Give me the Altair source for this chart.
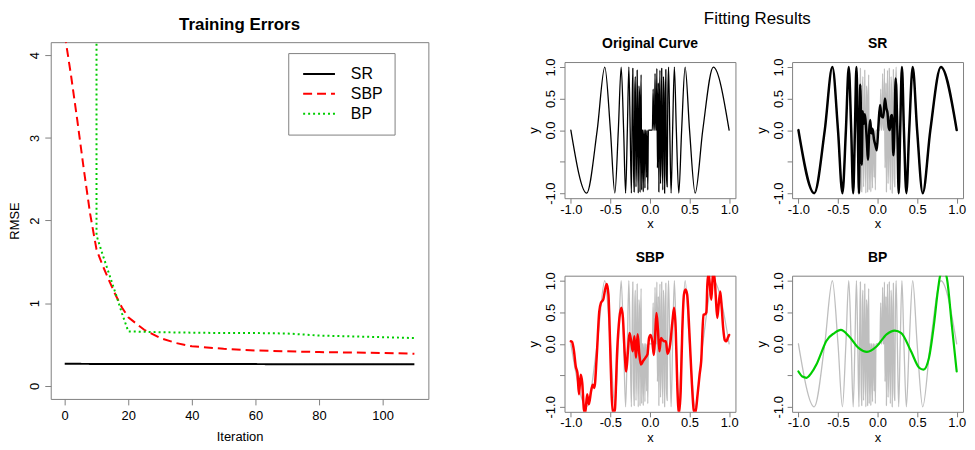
import altair as alt
import pandas as pd

FONT = "Liberation Sans"

# ---------------- Training errors ----------------
methods = ["SR", "SBP", "BP"]
method_colors = ["#000000", "#FF0000", "#00CD00"]
method_dash = [[1, 0], [9, 5], [2, 3]]

sr_iter = [0, 110]
sr_rmse = [0.268, 0.262]

sbp_iter = [0, 2, 4, 6, 8, 10, 12, 14, 16, 18, 20, 25, 30, 35, 40, 50, 60, 70, 80, 90, 100, 110]
sbp_rmse = [4.25, 3.75, 3.2, 2.62, 2.08, 1.65, 1.45, 1.27, 1.1, 0.95, 0.83, 0.68, 0.58, 0.52,
            0.48, 0.45, 0.43, 0.42, 0.41, 0.405, 0.40, 0.39]

bp_iter = [10, 10, 12, 14, 16, 18, 20, 30, 40, 50, 60, 70, 80, 90, 100, 110]
bp_rmse = [9.0, 1.82, 1.58, 1.35, 1.12, 0.88, 0.66, 0.65, 0.645, 0.64, 0.64, 0.635, 0.61, 0.60, 0.59, 0.58]

# ---------------- Fitting results ----------------
orig_x = [-1.0, -0.8, -0.667, -0.571, -0.5, -0.444, -0.4, -0.364, -0.333, -0.308, -0.286, -0.267, -0.25, -0.235,
          -0.225, -0.217, -0.208, -0.2, -0.192, -0.185, -0.177, -0.17, -0.162, -0.155, -0.148, -0.14, -0.133,
          -0.126, -0.119, -0.112, -0.105,
          -0.098, -0.09, -0.085, -0.078, -0.07, -0.064, -0.057, -0.05, -0.042, -0.035, -0.028, -0.02, -0.01, 0.0,
          0.01, 0.02, 0.03, 0.04, 0.048, 0.056, 0.064, 0.072, 0.08, 0.087, 0.094, 0.1, 0.106, 0.112, 0.119,
          0.126, 0.133, 0.14, 0.148, 0.155, 0.162, 0.17, 0.177, 0.185, 0.192, 0.2, 0.208, 0.217, 0.225, 0.235,
          0.25, 0.267, 0.286, 0.308, 0.333, 0.364, 0.4, 0.444, 0.5, 0.571, 0.667, 0.8, 1.0]
orig_y = [0, -1, 0, 1, 0, -1, 0, 1, 0, -1, 0, 1, 0, -1,
          0.30, 0.98, -0.55, -0.98, 0.60, 0.85, -0.90, -0.40, 0.95, -0.20, -1.00, 0.70, 0.55,
          -0.98, 0.20, 0.88, -0.95,
          0.0, 0.0, -0.98, 0.0, 0.0, -0.92, 0.0, 0.0, -0.75, 0.0, -0.95, 0.0, 0.0, 0.0,
          0.0, 0.0, 0.0, 0.65, 0.0, 0.0, 0.90, 0.0, 0.0, 0.98, -0.60, 0.0, 0.75, -0.98, 0.30,
          0.95, -0.85, -0.40, 0.98, -0.30, -0.95, 0.85, 0.60, -1.00, 0.10, 0.96, -0.70, -0.90, 0.50, 1.00,
          0, -1, 0, 1, 0, -1, 0, 1, 0, -1, 0, 1, 0]

sr_x = [-1.0, -0.8, -0.667, -0.571, -0.5, -0.444, -0.4, -0.364, -0.333, -0.308, -0.286, -0.267, -0.25, -0.235,
        -0.218, -0.2, -0.188, -0.175, -0.16, -0.146, -0.134, -0.122, -0.105, -0.093, -0.078, -0.064, -0.045,
        -0.025, -0.01,
        0.01, 0.031, 0.05, 0.072, 0.093, 0.11, 0.126, 0.14, 0.155, 0.17, 0.183, 0.2, 0.215, 0.229,
        0.25, 0.267, 0.286, 0.308, 0.333, 0.364, 0.4, 0.444, 0.5, 0.571, 0.667, 0.8, 1.0]
sr_y = [0, -1, 0, 1, 0, -1, 0, 1, 0, -1, 0, 1, 0, -1,
        0.72, -0.55, 0.30, 0.10, 0.25, 0.05, -0.20, -0.47, 0.0, 0.16, -0.05, 0.02, -0.15,
        -0.25, -0.32,
        0.05, 0.40, 0.22, 0.20, 0.50, 0.35, 0.27, 0.05, 0.0, 0.22, 0.24, -0.40, 0.10, 0.82,
        0, -1, 0, 1, 0, -1, 0, 1, 0, -1, 0, 1, 0]

sbp_x = [-1.0, -0.985, -0.96, -0.938, -0.917, -0.897, -0.876, -0.856, -0.835, -0.818, -0.794, -0.773,
         -0.744, -0.723, -0.703, -0.674, -0.641, -0.62, -0.591, -0.567, -0.546, -0.525, -0.505, -0.485,
         -0.468, -0.444, -0.415, -0.386, -0.362, -0.342, -0.321, -0.3, -0.279, -0.259, -0.238, -0.218,
         -0.197, -0.177, -0.156, -0.135, -0.115, -0.086, -0.057, -0.032, -0.012, 0.008, 0.029, 0.049,
         0.066, 0.082, 0.099, 0.119, 0.14, 0.16, 0.181, 0.201, 0.222, 0.255, 0.284, 0.305, 0.326, 0.346,
         0.367, 0.388, 0.408, 0.429, 0.449, 0.47, 0.499, 0.524, 0.553, 0.573, 0.602, 0.627, 0.647, 0.676,
         0.697, 0.712, 0.725, 0.74, 0.755, 0.775, 0.795, 0.812, 0.83, 0.85, 0.868, 0.888, 0.905, 0.925,
         0.945, 0.965, 0.985, 1.0]
sbp_y = [0.04, 0.03, -0.12, -0.36, -0.46, -0.80, -0.49, -0.62, -1.04, -1.10, -0.80, -0.96,
         -0.75, -0.65, -0.70, -0.22, 0.51, 0.65, 0.70, 0.86, 0.95, 0.78, 0.04, -0.80,
         -1.10, -1.05, -0.12, 0.41, 0.57, 0.41, -0.12, -0.44, -0.12, 0.17, 0.04, -0.12,
         0.12, -0.22, 0.15, -0.16, -0.33, -0.27, -0.22, -0.17, 0.09, 0.14, 0.04, -0.18,
         0.15, 0.49, 0.25, -0.12, 0.09, 0.06, 0.04, 0.04, -0.16, -0.01, 0.36, 0.57, 0.20, -0.70,
         -1.10, -0.75, 0.20, 0.78, 0.86, 0.78, 0.15, -0.49, -1.05, -1.10, -0.80, -0.49, -0.28, 0.46,
         0.47, 0.50, 0.94, 1.12, 0.95, 0.70, 1.08, 1.10, 0.78, 0.41, 0.62, 0.83, 0.60, 0.25,
         0.06, 0.04, 0.10, 0.14]

bp_x = [-1.0, -0.95, -0.897, -0.84, -0.773, -0.71, -0.65, -0.546, -0.464, -0.361, -0.237, -0.134,
        -0.01, 0.114, 0.217, 0.30, 0.423, 0.526, 0.58, 0.65, 0.712, 0.761, 0.794, 0.844, 0.876, 0.938, 1.0]
bp_y = [-0.44, -0.52, -0.54, -0.47, -0.33, -0.14, 0.04, 0.17, 0.22, 0.12, -0.07, -0.13,
        -0.04, 0.15, 0.21, 0.17, -0.12, -0.38, -0.41, -0.22, 0.30, 0.83, 1.09, 1.15, 1.04, 0.30, -0.44]

xy_ticks = [-1, -0.5, 0, 0.5, 1]

# ---------------- build tables ----------------
rows = []
for m, xs, ys in [("SR", sr_iter, sr_rmse), ("SBP", sbp_iter, sbp_rmse), ("BP", bp_iter, bp_rmse)]:
    for i, (a, b) in enumerate(zip(xs, ys)):
        rows.append({"Iteration": a, "RMSE": b, "method": m, "idx": i})
err_df = pd.DataFrame(rows)


def curve_df(xs, ys):
    return pd.DataFrame({"x": xs, "y": ys, "i": list(range(len(xs)))})


orig_df = curve_df(orig_x, orig_y)
sr_df = curve_df(sr_x, sr_y)
sbp_df = curve_df(sbp_x, sbp_y)
bp_df = curve_df(bp_x, bp_y)


def title_holder(text, width, weight, offset):
    """An invisible 1px-high view that only carries a title."""
    return alt.Chart(pd.DataFrame({"v": [0]})).mark_point(opacity=0, size=0).properties(
        width=width, height=1,
        view=alt.ViewBackground(stroke="transparent"),
        title=alt.TitleParams(text, fontSize=17, fontWeight=weight, offset=offset, anchor="middle"),
    )


# ---------------- left chart ----------------
LEG = alt.Legend(title=None, orient="none", legendX=239, legendY=19, padding=11,
                 strokeColor="#808080", fillColor="white", symbolType="stroke",
                 symbolSize=1024, symbolStrokeWidth=2, labelFontSize=16, labelFont=FONT,
                 labelColor="black", clipHeight=20, rowPadding=0, labelOffset=15, symbolOffset=3)

left_plot = alt.Chart(err_df).mark_line(strokeWidth=2, clip=True).encode(
    x=alt.X("Iteration:Q", scale=alt.Scale(domain=[-4.4, 114.4], nice=False, zero=False),
            axis=alt.Axis(values=[0, 20, 40, 60, 80, 100], format="d", tickSize=6,
                          labelPadding=5, titlePadding=8, title="Iteration")),
    y=alt.Y("RMSE:Q", scale=alt.Scale(domain=[-0.156, 4.156], nice=False, zero=False),
            axis=alt.Axis(values=[0, 1, 2, 3, 4], format="d", labelAngle=270, labelAlign="center",
                          labelBaseline="bottom", tickSize=6, labelPadding=3, titlePadding=7,
                          title="RMSE")),
    color=alt.Color("method:N", scale=alt.Scale(domain=methods, range=method_colors), legend=LEG),
    strokeDash=alt.StrokeDash("method:N", scale=alt.Scale(domain=methods, range=method_dash), legend=LEG),
    order="idx:Q",
).properties(width=380, height=359)

left = alt.vconcat(title_holder("Training Errors", 380, "bold", 0), left_plot, spacing=5)

# ---------------- right panels ----------------
XLAB = "datum.value < 0 ? '-' + format(-datum.value, '.1f') : format(datum.value, '.1f')"
YLAB = "datum.value == -0.5 ? '' : (" + XLAB + ")"

fx = alt.X("x:Q", scale=alt.Scale(domain=[-1.08, 1.08], nice=False, zero=False),
           axis=alt.Axis(values=xy_ticks, labelExpr=XLAB, title="x", tickSize=5, labelPadding=0,
                         titlePadding=2))
fy = alt.Y("y:Q", scale=alt.Scale(domain=[-1.08, 1.08], nice=False, zero=False),
           axis=alt.Axis(values=xy_ticks, labelExpr=YLAB, title="y", labelAngle=270, labelAlign="center",
                         labelBaseline="bottom", tickSize=5, labelPadding=2, titlePadding=4))


def panel(title, curves):
    layers = []
    for df, color, width in curves:
        layers.append(
            alt.Chart(df).mark_line(color=color, strokeWidth=width, interpolate="monotone", clip=True,
                                    strokeJoin="round", strokeCap="round")
            .encode(x=fx, y=fy, order="i:Q")
        )
    return alt.layer(*layers).properties(
        width=172, height=137,
        title=alt.TitleParams(title, fontSize=14, fontWeight="bold", offset=7),
    )


GRAY = "#BEBEBE"
p1 = panel("Original Curve", [(orig_df, "#000000", 1.3)])
p2 = panel("SR", [(orig_df, GRAY, 1.3), (sr_df, "#000000", 2.5)])
p3 = panel("SBP", [(orig_df, GRAY, 1.3), (sbp_df, "#FF0000", 2.5)])
p4 = panel("BP", [(orig_df, GRAY, 1.3), (bp_df, "#00CD00", 2.2)])

grid = alt.vconcat(
    alt.hconcat(p1, p2, spacing=15),
    alt.hconcat(p3, p4, spacing=15),
    spacing=18,
)
right = alt.vconcat(title_holder("Fitting Results", 388, "normal", 6), grid, spacing=0)

chart = alt.hconcat(left, right, spacing=98).properties(
    padding={"left": 0, "top": 0, "right": 0, "bottom": 0}
).configure(font=FONT).configure_view(
    stroke="#808080", strokeWidth=1
).configure_axis(
    labelFontSize=13, titleFontSize=13, labelColor="black", titleColor="black",
    titleFontWeight="normal", tickColor="#808080", domain=False, grid=False,
    labelFlush=False, labelOverlap=False, labelFont=FONT, titleFont=FONT,
).configure_title(font=FONT, color="black")

chart.save("out.html", embed_options={"renderer": "svg", "actions": False})
